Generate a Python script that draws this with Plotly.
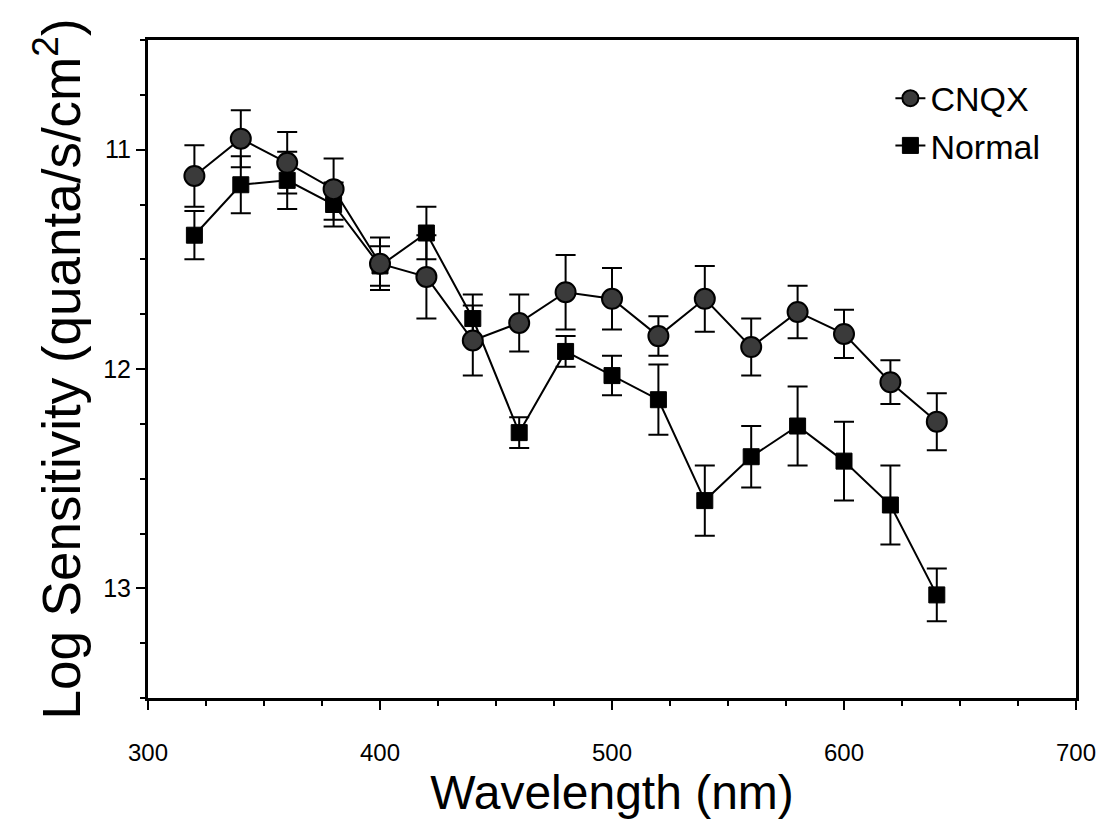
import plotly.graph_objects as go

wavelength = [320, 340, 360, 380, 400, 420, 440, 460, 480, 500, 520, 540, 560, 580, 600, 620, 640]

cnqx = [11.12, 10.95, 11.06, 11.18, 11.52, 11.58, 11.87, 11.79, 11.65, 11.68,
        11.85, 11.68, 11.90, 11.74, 11.84, 12.06, 12.24]
cnqx_err = [0.14, 0.13, 0.14, 0.14, 0.12, 0.19, 0.16, 0.13, 0.17, 0.14,
            0.09, 0.15, 0.13, 0.12, 0.11, 0.10, 0.13]

normal = [11.39, 11.16, 11.14, 11.25, 11.53, 11.38, 11.77, 12.29, 11.92, 12.03,
          12.14, 12.60, 12.40, 12.26, 12.42, 12.62, 13.03]
normal_err = [0.11, 0.13, 0.13, 0.10, 0.09, 0.12, 0.11, 0.07, 0.07, 0.09,
              0.16, 0.16, 0.14, 0.18, 0.18, 0.18, 0.12]

font = "Liberation Sans, Arial, sans-serif"

fig = go.Figure()

fig.add_trace(go.Scatter(
    x=wavelength, y=normal,
    error_y=dict(type="data", array=normal_err, color="black", thickness=2, width=10),
    mode="lines+markers",
    name="Normal",
    legendrank=2,
    line=dict(color="black", width=2),
    marker=dict(symbol="square", size=16, color="black", line=dict(color="black", width=1)),
))

fig.add_trace(go.Scatter(
    x=wavelength, y=cnqx,
    error_y=dict(type="data", array=cnqx_err, color="black", thickness=2, width=10),
    mode="lines+markers",
    name="CNQX",
    legendrank=1,
    line=dict(color="black", width=2),
    marker=dict(symbol="circle", size=20, color="#3a3a3a", line=dict(color="black", width=2)),
))

fig.update_layout(
    width=1104, height=838,
    margin=dict(l=140, r=36, t=32, b=148),
    paper_bgcolor="white",
    plot_bgcolor="white",
    font=dict(family=font, color="black"),
    showlegend=True,
    legend=dict(
        x=0.80, y=0.955, xanchor="left", yanchor="top",
        font=dict(size=34, family=font),
        bgcolor="rgba(0,0,0,0)",
        tracegroupgap=0,
    ),
)

fig.update_xaxes(
    range=[300, 700],
    tickvals=[300, 400, 500, 600, 700],
    ticks="outside", ticklen=9, tickwidth=2, tickcolor="black",
    minor=dict(dtick=25, ticks="outside", ticklen=5, tickwidth=1.5, tickcolor="black"),
    showline=True, linewidth=3, linecolor="black", mirror=True,
    showgrid=False, zeroline=False,
    tickfont=dict(size=24, family=font),
    ticklabelstandoff=22,
    title=dict(text="Wavelength (nm)", font=dict(size=48, family=font), standoff=8),
)

fig.update_yaxes(
    range=[13.5, 10.5],
    tickvals=[11, 12, 13],
    ticks="outside", ticklen=9, tickwidth=2, tickcolor="black",
    minor=dict(dtick=0.25, ticks="outside", ticklen=5, tickwidth=1.5, tickcolor="black"),
    showline=True, linewidth=3, linecolor="black", mirror=True,
    showgrid=False, zeroline=False,
    tickfont=dict(size=25, family=font),
    title=dict(text="Log Sensitivity (quanta/s/cm<sup>2</sup>)", font=dict(size=53, family=font), standoff=6),
)

fig.write_html("out.html")
